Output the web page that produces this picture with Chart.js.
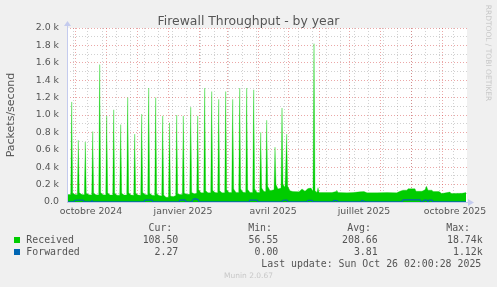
<!DOCTYPE html>
<html>
<head>
<meta charset="utf-8">
<script src="https://cdn.jsdelivr.net/npm/chart.js@4.4.1/dist/chart.umd.min.js"></script>
<style>
html, body { margin: 0; padding: 0; background: #f0f0f0; }
#wrap { position: relative; width: 497px; height: 287px; overflow: hidden; }
#chart { position: absolute; left: 0; top: 0; }
.t { position: absolute; white-space: nowrap; font-family: 'DejaVu Sans', sans-serif; color: #555; }
.m { position: absolute; white-space: nowrap; font-family: 'DejaVu Sans Mono', monospace; font-size: 9.9px; line-height: 12px; color: #555; }
.r { text-align: right; width: 120px; }
.sq { position: absolute; width: 6px; height: 6px; }
</style>
</head>
<body>
<div id="wrap">
  <canvas id="chart" width="497" height="287"></canvas>
  <div class="t" style="left:0;width:497px;text-align:center;top:12.5px;font-size:12.4px;line-height:15px;">Firewall Throughput - by year</div>
  <div class="t" style="left:-89px;width:200px;text-align:center;top:107.5px;font-size:11px;line-height:14px;transform:rotate(-90deg);">Packets/second</div>
  <div class="t" style="left:428px;width:120px;text-align:center;top:47px;font-size:7.5px;line-height:12px;color:#c8c8c8;transform:rotate(90deg);">RRDTOOL / TOBI OETIKER</div>
  <div id="legend"></div>
  <div class="t" style="left:0;width:497px;text-align:center;top:270px;font-size:7.5px;line-height:12px;color:#c8c8c8;">Munin 2.0.67</div>
</div>
<script>
// day 0 = left edge of the plot (about 23 Sept 2024), one day per pixel
const xLabelDays = [24, 116, 206, 297, 388];
const xLabels = ['octobre 2024', 'janvier 2025', 'avril 2025', 'juillet 2025', 'octobre 2025'];
const monthStartDays = [8.3, 39.3, 70.3, 101.7, 132.7, 160.8, 191.9, 221.3, 252, 282.5, 313, 344.5, 375];

// received: weekly spikes [day, packets/s]
const spikes = [
  [4.7, 1150], [11.3, 710], [18.3, 690], [25.7, 810], [32.7, 1580], [39.7, 990],
  [46.7, 1060], [53.7, 890], [60.7, 1200], [67.7, 780], [74.7, 1010], [81.7, 1310],
  [88.7, 1200], [95.7, 990], [102.5, 910], [109.7, 1000], [116.3, 990], [123.7, 1090],
  [130.7, 990], [137.7, 1310], [144.7, 1270], [151.7, 1180], [158.7, 1270], [165.7, 1180],
  [172.7, 1310], [179.7, 1310], [186.7, 1290], [193.7, 800], [199.7, 940], [208, 630],
  [215, 1080], [219.7, 780], [247, 1820]
];

// received: level between the spikes [day, packets/s]
const baseline = [
  [0, 86], [3.7, 85], [5.7, 100], [8, 85], [10.3, 82], [12.3, 105], [15, 85],
  [17.3, 82], [19.3, 100], [22, 84], [24.7, 80], [26.7, 100], [29, 82],
  [31.7, 80], [33.7, 110], [36, 82], [38.7, 80], [40.7, 105], [43, 80],
  [45.7, 80], [47.7, 100], [50, 78], [52.7, 78], [54.7, 100], [57, 80],
  [59.7, 80], [61.7, 105], [64, 80], [66.7, 78], [68.7, 100], [71, 80],
  [73.7, 78], [75.7, 110], [78, 85], [80.7, 80], [82.7, 100], [85, 78],
  [87.7, 76], [89.7, 95], [92, 75], [94.7, 70], [96.7, 80], [99, 55],
  [101.5, 55], [103.5, 70], [106, 60], [108.7, 75], [110.7, 95], [113, 85],
  [115.3, 85], [117.3, 100], [120, 88], [122.7, 88], [124.7, 110], [127, 95],
  [129.7, 100], [131.7, 140], [134, 105], [136.7, 105], [138.7, 130], [141, 105],
  [143.7, 105], [145.7, 135], [148, 108], [150.7, 105], [152.7, 130], [155, 105],
  [157.7, 105], [159.7, 140], [162, 110], [164.7, 108], [166.7, 150], [169, 110],
  [171.7, 110], [173.7, 150], [176, 112], [178.7, 110], [180.7, 145], [183, 110],
  [185.7, 108], [187.7, 150], [190, 110], [192.7, 110], [194.7, 160], [197, 120],
  [198.7, 120], [200.7, 180], [203, 130], [207, 140], [209, 200], [211, 150],
  [214, 160], [216, 200], [218, 170], [218.7, 170], [220.7, 180], [223, 130],
  [226, 120], [232, 118], [235, 150], [238, 125], [241, 155], [244, 160],
  [246, 125], [248, 130], [250, 110], [251, 165], [252, 108], [258, 110],
  [265, 108], [269, 120], [269.7, 136], [271, 110], [280, 105], [286, 108],
  [293, 118], [297, 120], [300, 105], [310, 106], [320, 108], [329.7, 105],
  [333, 124], [336, 136], [340, 136], [341, 152], [348, 152], [349, 124],
  [355, 124], [358, 140], [359.5, 182], [361, 136], [365, 136], [366, 120],
  [372, 120], [374.7, 98], [383, 114], [384, 98], [395, 100], [399, 108]
];

// forwarded [day, packets/s]
const forwarded = [
  [0, 2], [7, 2], [8, 20], [16, 22], [17, 2], [24, 2], [25, 15], [26, 2],
  [77, 2], [78, 22], [85, 22], [86, 2], [112, 2], [113, 22], [118, 25], [119, 3],
  [125, 3], [126, 30], [128, 38], [131, 28], [132, 3], [182, 3], [183, 22], [190, 22],
  [191, 3], [215, 3], [216, 20], [220, 22], [221, 2], [240, 2], [241, 20], [245, 18],
  [246, 2], [266, 2], [267, 18], [270, 15], [271, 2], [294, 2], [295, 20], [298, 2],
  [335, 2], [336, 25], [353, 25], [354, 2], [356, 2], [357, 22], [360, 22], [361, 2],
  [362, 22], [365, 22], [366, 2], [399, 2]
];

const legendNames = ['Received', 'Forwarded'];
const legendColors = ['#00cc00', '#0066b3'];
const curValues = ['108.50', '2.27'];
const minValues = ['56.55', '0.00'];
const avgValues = ['208.66', '3.81'];
const maxValues = ['18.74k', '1.12k'];
const lastUpdate = 'Last update: Sun Oct 26 02:00:28 2025';

function buildLegend() {
    const el = document.getElementById('legend');
    let html = '';
    const heads = [['Cur:', 172.3], ['Min:', 272], ['Avg:', 371], ['Max:', 470]];
    heads.forEach(h => {
        html += `<div class="m r" style="left:${h[1] - 120}px;top:221.5px;">${h[0]}</div>`;
    });
    const cols = [[curValues, 178.3], [minValues, 278.3], [avgValues, 377.7], [maxValues, 482.7]];
    legendNames.forEach((name, i) => {
        const top = 233.5 + i * 12;
        html += `<div class="sq" style="left:14px;top:${top + 3.5}px;background:${legendColors[i]};"></div>`;
        html += `<div class="m" style="left:26.3px;top:${top}px;">${name}</div>`;
        cols.forEach(c => {
            html += `<div class="m r" style="left:${c[1] - 120}px;top:${top}px;">${c[0][i]}</div>`;
        });
    });
    html += `<div class="m" style="left:261.3px;top:257.5px;">${lastUpdate}</div>`;
    el.innerHTML = html;
}

function toPoints(list) {
    return list.map(p => ({ x: p[0], y: p[1] })).sort((a, b) => a.x - b.x);
}

const tickKind = {};
monthStartDays.forEach(d => tickKind[d] = 'major');
xLabelDays.forEach((d, i) => tickKind[d] = 'label');

const axisBlue = '#c4cbee';

// white plot background, solid axes with arrows on top of the data
const plotDeco = {
    id: 'plotDeco',
    beforeDraw(chart) {
        const { ctx, chartArea: a } = chart;
        ctx.save();
        ctx.fillStyle = '#ffffff';
        ctx.fillRect(a.left, a.top, a.right - a.left, a.bottom - a.top);
        ctx.restore();
    },
    afterDraw(chart) {
        const { ctx, chartArea: a } = chart;
        const x0 = Math.round(a.left) + 0.5;
        const y0 = Math.round(a.bottom) + 0.5;
        ctx.save();
        ctx.setLineDash([]);
        ctx.strokeStyle = axisBlue;
        ctx.fillStyle = axisBlue;
        ctx.lineWidth = 1;
        ctx.beginPath();
        ctx.moveTo(x0, y0);
        ctx.lineTo(x0, a.top - 4);
        ctx.moveTo(x0, y0);
        ctx.lineTo(a.right + 2, y0);
        ctx.stroke();
        ctx.beginPath();
        ctx.moveTo(x0, a.top - 7);
        ctx.lineTo(x0 - 3.5, a.top - 2);
        ctx.lineTo(x0 + 3.5, a.top - 2);
        ctx.closePath();
        ctx.fill();
        ctx.beginPath();
        ctx.moveTo(a.right + 7, y0);
        ctx.lineTo(a.right + 1, y0 - 3.5);
        ctx.lineTo(a.right + 1, y0 + 3.5);
        ctx.closePath();
        ctx.fill();
        ctx.restore();
    }
};

function drawChart() {
    const ctx = document.getElementById('chart').getContext('2d');
    const received = toPoints(baseline.concat(spikes));
    new Chart(ctx, {
        type: 'line',
        data: {
            datasets: [{
                label: 'Forwarded',
                data: toPoints(forwarded),
                borderColor: '#0066b3',
                borderWidth: 1.2,
                pointRadius: 0,
                fill: false,
                tension: 0,
                order: 0
            }, {
                label: 'Received',
                data: received,
                borderColor: 'rgba(0,204,0,0.3)',
                backgroundColor: '#00cc00',
                borderWidth: 1,
                pointRadius: 0,
                fill: 'origin',
                tension: 0,
                order: 1
            }]
        },
        options: {
            responsive: false,
            animation: false,
            devicePixelRatio: 1,
            layout: { padding: { left: 0, right: 30, top: 28, bottom: 65 } },
            plugins: {
                legend: { display: false },
                tooltip: { enabled: false }
            },
            scales: {
                x: {
                    type: 'linear',
                    min: 0,
                    max: 400,
                    afterFit: s => { s.height = 20; },
                    afterBuildTicks: s => {
                        const vals = [];
                        for (let d = 6.9; d < 400; d += 14.05) vals.push(+d.toFixed(2));
                        monthStartDays.forEach(d => vals.push(d));
                        xLabelDays.forEach(d => vals.push(d));
                        vals.sort((a, b) => a - b);
                        s.ticks = vals.map(v => ({ value: v }));
                    },
                    ticks: {
                        autoSkip: false,
                        maxRotation: 0,
                        padding: 4,
                        color: '#555',
                        font: { family: 'DejaVu Sans', size: 9.4 },
                        callback: v => {
                            const i = xLabelDays.indexOf(v);
                            return i >= 0 ? xLabels[i] : '';
                        }
                    },
                    grid: {
                        drawTicks: false,
                        color: c => {
                            const k = c.tick ? tickKind[c.tick.value] : null;
                            if (k === 'label') return 'rgba(0,0,0,0)';
                            if (k === 'major') return 'rgba(210,60,60,0.45)';
                            return 'rgba(140,140,140,0.4)';
                        }
                    },
                    border: { display: false, dash: [1, 2] }
                },
                y: {
                    min: 0,
                    max: 2000,
                    afterFit: s => { s.width = 67; },
                    ticks: {
                        stepSize: 100,
                        autoSkip: false,
                        padding: 8,
                        color: '#555',
                        font: { family: 'DejaVu Sans', size: 9.4 },
                        callback: v => {
                            if (v % 200 !== 0) return '';
                            return v === 0 ? '0.0' : (v / 1000).toFixed(1) + ' k';
                        }
                    },
                    grid: {
                        drawTicks: false,
                        color: c => (c.tick && c.tick.value % 200 === 0) ? 'rgba(210,60,60,0.45)' : 'rgba(140,140,140,0.4)'
                    },
                    border: { display: false, dash: [1, 2] }
                }
            }
        },
        plugins: [plotDeco]
    });
}

buildLegend();
drawChart();
</script>
</body>
</html>
